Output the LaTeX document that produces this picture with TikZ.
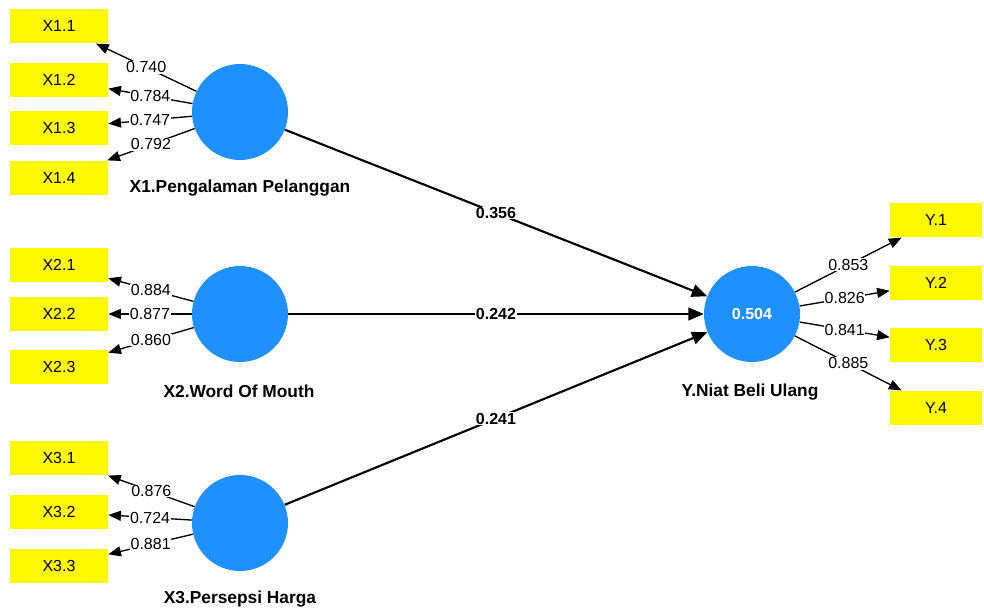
\documentclass[tikz,border=0pt]{standalone}
\usepackage{fontspec}
\setmainfont{Liberation Sans}
\usetikzlibrary{arrows.meta, positioning}
\definecolor{lvblue}{RGB}{30,144,255}
\definecolor{indyellow}{RGB}{255,250,0}

\begin{document}
\begin{tikzpicture}[x=0.75pt, y=-0.75pt, >={Triangle[length=9.5pt, width=7.5pt]},
    indicator/.style={fill=indyellow, minimum width=73.5pt, minimum height=26pt, inner sep=0pt, font=\fontsize{12}{14}\selectfont},
    yindicator/.style={indicator, minimum width=69pt},
    construct/.style={circle, fill=lvblue, minimum size=72pt, inner sep=0pt, text=white, font=\bfseries\fontsize{12}{14}\selectfont},
    cname/.style={font=\bfseries\fontsize{13}{15}\selectfont},
    loading/.style={->, line width=1pt},
    structural/.style={-{Triangle[length=11.5pt, width=9.5pt]}, line width=1.6pt},
    lval/.style={fill=white, inner sep=0.5pt, font=\fontsize{12}{14}\selectfont},
    pval/.style={fill=white, inner sep=0.5pt, font=\bfseries\fontsize{12}{14}\selectfont}]
    \useasboundingbox (0,0) rectangle (984,613);

    % Indicators
    \node[indicator] (x11) at (59,26) {X1.1};
    \node[indicator] (x12) at (59,80) {X1.2};
    \node[indicator] (x13) at (59,128) {X1.3};
    \node[indicator] (x14) at (59,178) {X1.4};

    \node[indicator] (x21) at (59,265) {X2.1};
    \node[indicator] (x22) at (59,314) {X2.2};
    \node[indicator] (x23) at (59,367) {X2.3};

    \node[indicator] (x31) at (59,458) {X3.1};
    \node[indicator] (x32) at (59,512) {X3.2};
    \node[indicator] (x33) at (59,566) {X3.3};

    \node[yindicator] (y1) at (936,220) {Y.1};
    \node[yindicator] (y2) at (936,283) {Y.2};
    \node[yindicator] (y3) at (936,345) {Y.3};
    \node[yindicator] (y4) at (936,408) {Y.4};

    % Constructs
    \node[construct] (X1) at (240,112) {};
    \node[construct] (X2) at (240,314) {};
    \node[construct] (X3) at (240,523) {};
    \node[construct] (Y) at (752,314) {0.504};

    \node[cname] (X1name) at (240,188) {X1.Pengalaman Pelanggan};
    \node[cname] (X2name) at (239,391) {X2.Word Of Mouth};
    \node[cname] (X3name) at (240,599) {X3.Persepsi Harga};
    \node[cname] (Yname) at (750,392) {Y.Niat Beli Ulang};

    % Outer loadings
    \draw[loading] (X1) -- node[lval] {0.740} (x11);
    \draw[loading] (X1) -- node[lval] {0.784} (x12);
    \draw[loading] (X1) -- node[lval] {0.747} (x13);
    \draw[loading] (X1) -- node[lval] {0.792} (x14);

    \draw[loading] (X2) -- node[lval] {0.884} (x21);
    \draw[loading] (X2) -- node[lval] {0.877} (x22);
    \draw[loading] (X2) -- node[lval] {0.860} (x23);

    \draw[loading] (X3) -- node[lval] {0.876} (x31);
    \draw[loading] (X3) -- node[lval] {0.724} (x32);
    \draw[loading] (X3) -- node[lval] {0.881} (x33);

    \draw[loading] (Y) -- node[lval] {0.853} (y1);
    \draw[loading] (Y) -- node[lval] {0.826} (y2);
    \draw[loading] (Y) -- node[lval] {0.841} (y3);
    \draw[loading] (Y) -- node[lval] {0.885} (y4);

    % Path coefficients
    \draw[structural] (X1) -- node[pval] {0.356} (Y);
    \draw[structural] (X2) -- node[pval] {0.242} (Y);
    \draw[structural] (X3) -- node[pval] {0.241} (Y);
\end{tikzpicture}
\end{document}
